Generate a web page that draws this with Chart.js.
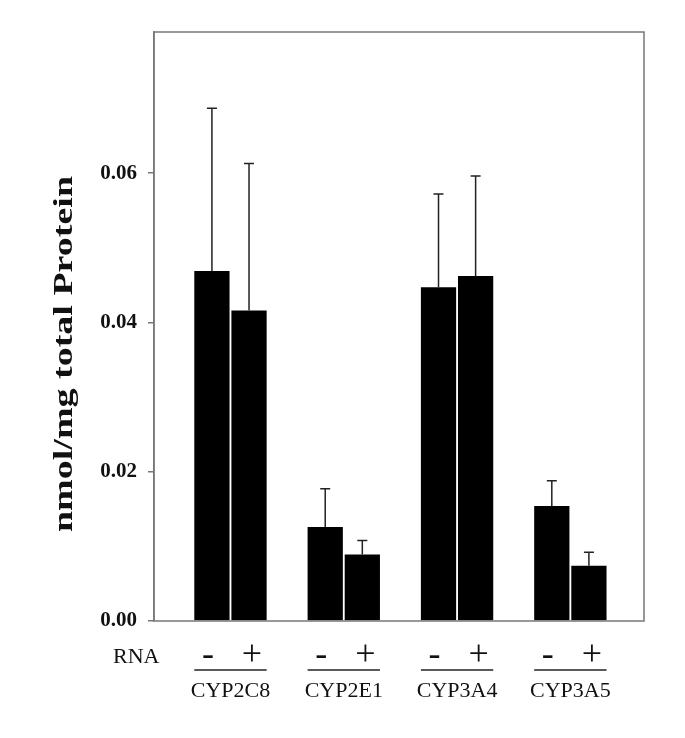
<!DOCTYPE html>
<html>
<head>
<meta charset="utf-8">
<script src="https://cdn.jsdelivr.net/npm/chart.js@4.4.1/dist/chart.umd.min.js"></script>
<style>
  html, body { margin: 0; padding: 0; background: #fff; }
</style>
</head>
<body>
<canvas id="chart" width="685" height="738"></canvas>
<script>
// values (nmol/mg total protein)
const genes = ['CYP2C8', 'CYP2E1', 'CYP3A4', 'CYP3A5'];
const rnaLabels = ['-', '+'];
const minusRna = [0.0469, 0.0126, 0.0447, 0.0154];
const plusRna = [0.0416, 0.0089, 0.0462, 0.0074];
const minusSd = [0.0218, 0.0051, 0.0125, 0.0034];
const plusSd = [0.0197, 0.0019, 0.0134, 0.0018];
const yTicks = [0, 0.02, 0.04, 0.06];

const serif = '"Liberation Serif", "Times New Roman", serif';

const toPoints = (vals) => vals.map((y, i) => ({ x: i, y }));

const frame = {
  id: 'frame',
  afterDatasetsDraw(chart) {
    const { ctx, chartArea: { left, top, width, height } } = chart;
    ctx.save();
    ctx.strokeStyle = '#777';
    ctx.lineWidth = 1.5;
    ctx.strokeRect(left, top, width, height);
    ctx.restore();
  },
};

const errorBars = {
  id: 'errorBars',
  afterDatasetsDraw(chart) {
    const { ctx, scales: { y } } = chart;
    ctx.save();
    ctx.strokeStyle = '#222';
    ctx.lineWidth = 1.5;
    chart.data.datasets.forEach((ds, d) => {
      const meta = chart.getDatasetMeta(d);
      meta.data.forEach((bar, i) => {
        const top = y.getPixelForValue(ds.data[i].y + ds.err[i]);
        ctx.beginPath();
        ctx.moveTo(bar.x, bar.y);
        ctx.lineTo(bar.x, top);
        ctx.moveTo(bar.x - 5, top);
        ctx.lineTo(bar.x + 5, top);
        ctx.stroke();
      });
    });
    ctx.restore();
  },
};

const labels = {
  id: 'labels',
  afterDraw(chart) {
    const { ctx } = chart;
    const m0 = chart.getDatasetMeta(0);
    const m1 = chart.getDatasetMeta(1);
    ctx.save();
    ctx.fillStyle = '#111';
    ctx.textAlign = 'center';
    ctx.textBaseline = 'alphabetic';

    // - / + sit a little outside the bar centres
    ctx.font = '36px ' + serif;
    [m0, m1].forEach((meta, d) => {
      const shift = d === 0 ? -4 : 3;
      meta.data.forEach((bar) => ctx.fillText(rnaLabels[d], bar.x + shift, 665));
    });

    ctx.font = '22px ' + serif;
    ctx.strokeStyle = '#222';
    ctx.lineWidth = 1.5;
    genes.forEach((g, i) => {
      const a = m0.data[i];
      const b = m1.data[i];
      const l = a.x - a.width / 2;
      const r = b.x + b.width / 2;
      ctx.beginPath();
      ctx.moveTo(l, 670);
      ctx.lineTo(r, 670);
      ctx.stroke();
      ctx.fillText(g, (l + r) / 2, 697);
    });

    ctx.textAlign = 'left';
    ctx.fillText('RNA', 113, 663);

    // y title, squeezed a bit across like the source image
    ctx.translate(65, 354);
    ctx.rotate(-Math.PI / 2);
    ctx.scale(1, 0.72);
    ctx.textAlign = 'center';
    ctx.textBaseline = 'middle';
    ctx.font = 'bold 38px ' + serif;
    ctx.fillText('nmol/mg total Protein', 0, 0);
    ctx.restore();
  },
};

const config = {
  type: 'bar',
  data: {
    datasets: [
      {
        label: rnaLabels[0],
        data: toPoints(minusRna),
        err: minusSd,
        backgroundColor: '#000',
        categoryPercentage: 0.655,
        barPercentage: 0.95,
      },
      {
        label: rnaLabels[1],
        data: toPoints(plusRna),
        err: plusSd,
        backgroundColor: '#000',
        categoryPercentage: 0.655,
        barPercentage: 0.95,
      },
    ],
  },
  options: {
    responsive: false,
    animation: false,
    layout: {
      padding: { top: 32, right: 41, left: 0, bottom: 0 },
    },
    plugins: {
      legend: { display: false },
      tooltip: { enabled: false },
    },
    scales: {
      x: {
        type: 'linear',
        offset: false,
        min: -0.675,
        max: 3.65,
        afterBuildTicks: (s) => {
          s.ticks = genes.map((g, i) => ({ value: i }));
        },
        afterFit: (s) => {
          s.height = 117;
        },
        ticks: { display: false },
        grid: { display: false, offset: false },
        border: { display: false },
      },
      y: {
        min: 0,
        max: 0.0789,
        afterBuildTicks: (s) => {
          s.ticks = yTicks.map((v) => ({ value: v }));
        },
        afterFit: (s) => {
          s.width = 154;
        },
        ticks: {
          callback: (v) => v.toFixed(2),
          font: { family: serif, size: 21, weight: 'bold' },
          color: '#111',
          padding: 11,
        },
        grid: {
          drawOnChartArea: false,
          tickLength: 6,
          color: '#777',
          lineWidth: 1.5,
        },
        border: { color: '#777', width: 1.5 },
      },
    },
  },
  plugins: [frame, errorBars, labels],
};

new Chart(document.getElementById('chart').getContext('2d'), config);
</script>
</body>
</html>
